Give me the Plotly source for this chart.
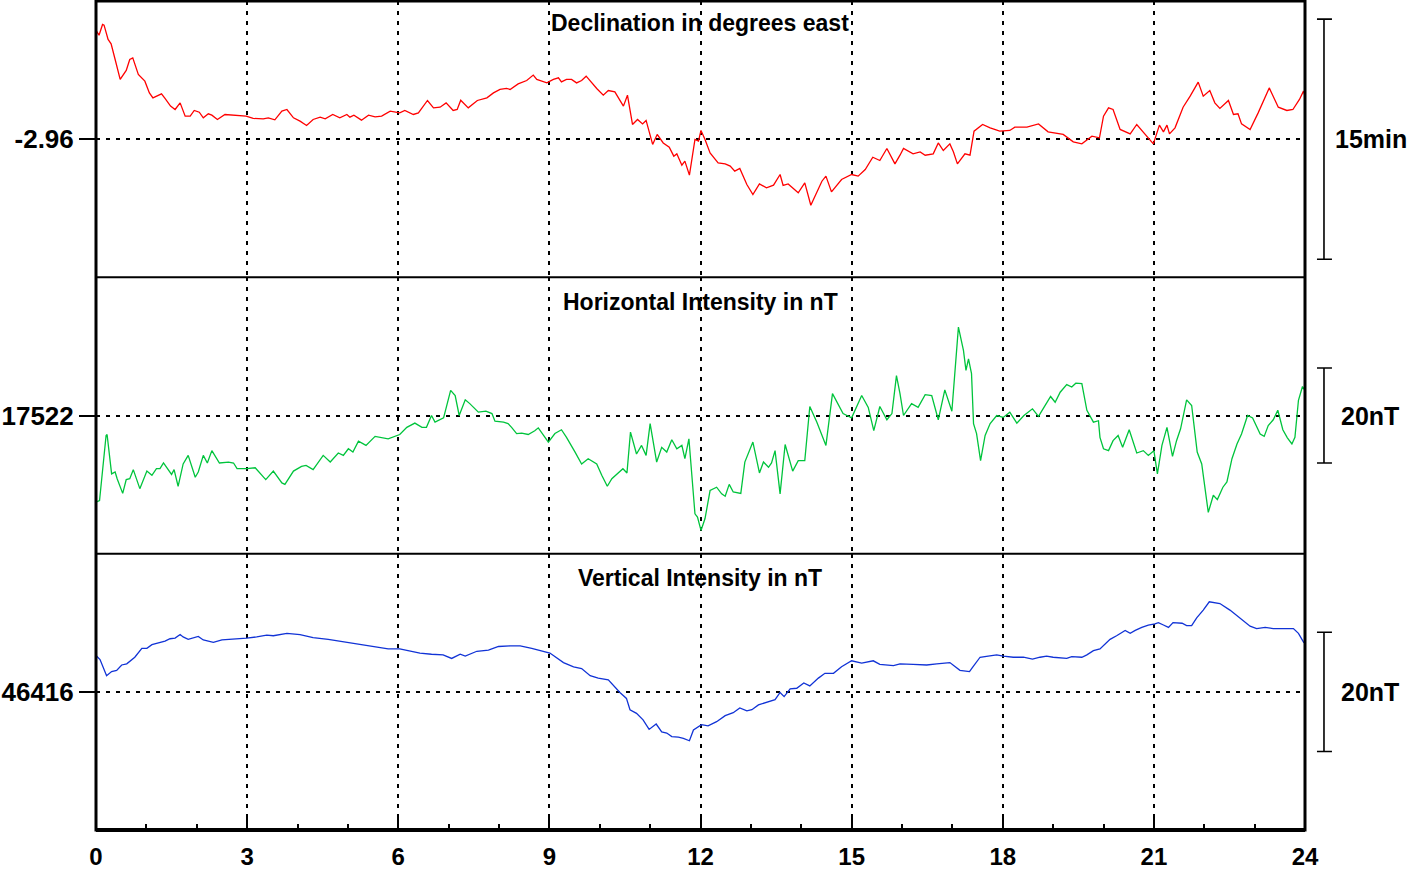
import plotly.graph_objects as go
from plotly.subplots import make_subplots

# hours (UT) and readings, one array pair per component
dec_hours = [0.01, 0.06, 0.13, 0.16, 0.24, 0.30, 0.38, 0.48, 0.60, 0.67,
             0.73, 0.77, 0.84, 0.97, 1.06, 1.13, 1.20, 1.30, 1.37, 1.48,
             1.57, 1.67, 1.77, 1.87, 1.95, 2.05, 2.13, 2.23, 2.30, 2.41,
             2.56, 2.73, 2.86, 2.98, 3.12, 3.32, 3.42, 3.55, 3.69, 3.79,
             3.92, 4.05, 4.18, 4.31, 4.45, 4.55, 4.70, 4.84, 4.98, 5.04,
             5.12, 5.27, 5.41, 5.54, 5.67, 5.84, 6.03, 6.13, 6.30, 6.40,
             6.58, 6.70, 6.83, 6.95, 7.09, 7.17, 7.24, 7.39, 7.57, 7.76,
             7.89, 8.02, 8.15, 8.22, 8.38, 8.55, 8.68, 8.75, 8.95, 9.08,
             9.18, 9.24, 9.34, 9.44, 9.54, 9.64, 9.73, 9.84, 9.94, 10.07,
             10.17, 10.30, 10.47, 10.55, 10.65, 10.75, 10.85, 10.92, 11.05, 11.14,
             11.26, 11.38, 11.47, 11.53, 11.63, 11.69, 11.78, 11.89, 11.96, 12.01,
             12.09, 12.19, 12.35, 12.49, 12.59, 12.68, 12.78, 12.92, 13.04, 13.17,
             13.31, 13.45, 13.58, 13.64, 13.74, 13.94, 14.07, 14.19, 14.31, 14.41,
             14.49, 14.60, 14.80, 15.00, 15.13, 15.27, 15.42, 15.56, 15.70, 15.86,
             15.96, 16.03, 16.22, 16.36, 16.46, 16.62, 16.72, 16.82, 16.95, 17.02,
             17.10, 17.25, 17.35, 17.43, 17.60, 17.75, 17.94, 18.14, 18.24, 18.48,
             18.71, 18.90, 19.20, 19.40, 19.57, 19.77, 19.92, 20.00, 20.10, 20.19,
             20.33, 20.53, 20.66, 20.82, 20.99, 21.11, 21.19, 21.26, 21.31, 21.42,
             21.58, 21.72, 21.88, 21.98, 22.11, 22.21, 22.31, 22.48, 22.58, 22.67,
             22.74, 22.91, 23.07, 23.29, 23.47, 23.64, 23.76, 23.89, 23.97, 24.00]
dec_values = [-2.8475, -2.8517, -2.8405, -2.8412, -2.8561, -2.8607, -2.8770, -2.8978, -2.8884, -2.8770,
              -2.8753, -2.8822, -2.8926, -2.8996, -2.9118, -2.9170, -2.9152, -2.9128, -2.9176, -2.9256,
              -2.9291, -2.9222, -2.9360, -2.9360, -2.9301, -2.9319, -2.9378, -2.9336, -2.9350, -2.9395,
              -2.9343, -2.9353, -2.9360, -2.9360, -2.9384, -2.9389, -2.9378, -2.9399, -2.9308, -2.9291,
              -2.9378, -2.9412, -2.9457, -2.9395, -2.9371, -2.9389, -2.9343, -2.9378, -2.9343, -2.9371,
              -2.9350, -2.9402, -2.9350, -2.9368, -2.9360, -2.9308, -2.9326, -2.9301, -2.9343, -2.9326,
              -2.9197, -2.9274, -2.9267, -2.9222, -2.9301, -2.9291, -2.9194, -2.9274, -2.9197, -2.9170,
              -2.9118, -2.9082, -2.9072, -2.9082, -2.9024, -2.8989, -2.8933, -2.8978, -2.9014, -2.8978,
              -2.8961, -2.9003, -2.8978, -2.8978, -2.9014, -2.8989, -2.8944, -2.9014, -2.9072, -2.9142,
              -2.9093, -2.9107, -2.9256, -2.9142, -2.9447, -2.9395, -2.9441, -2.9405, -2.9655, -2.9551,
              -2.9639, -2.9683, -2.9777, -2.9753, -2.9871, -2.9829, -2.9975, -2.9603, -2.9621, -2.9509,
              -2.9603, -2.9743, -2.9847, -2.9857, -2.9881, -2.9933, -2.9905, -3.0072, -3.0176, -3.0066,
              -3.0107, -3.0079, -2.9968, -3.0082, -3.0066, -3.0159, -3.0055, -3.0288, -3.0142, -3.0038,
              -2.9985, -3.0149, -3.0020, -2.9968, -2.9985, -2.9916, -2.9788, -2.9822, -2.9697, -2.9857,
              -2.9767, -2.9697, -2.9753, -2.9732, -2.9767, -2.9753, -2.9639, -2.9718, -2.9649, -2.9732,
              -2.9857, -2.9753, -2.9767, -2.9517, -2.9447, -2.9482, -2.9517, -2.9509, -2.9475, -2.9475,
              -2.9441, -2.9524, -2.9551, -2.9628, -2.9649, -2.9569, -2.9586, -2.9360, -2.9274, -2.9291,
              -2.9499, -2.9545, -2.9447, -2.9545, -2.9649, -2.9454, -2.9524, -2.9454, -2.9545, -2.9482,
              -2.9267, -2.9152, -2.9006, -2.9152, -2.9093, -2.9222, -2.9280, -2.9197, -2.9343, -2.9336,
              -2.9441, -2.9499, -2.9326, -2.9066, -2.9267, -2.9301, -2.9291, -2.9186, -2.9100, -2.9152]

hor_hours = [0.01, 0.07, 0.20, 0.22, 0.31, 0.38, 0.42, 0.53, 0.60, 0.67,
             0.74, 0.87, 1.01, 1.11, 1.20, 1.27, 1.34, 1.50, 1.55, 1.63,
             1.73, 1.83, 1.97, 2.03, 2.13, 2.21, 2.30, 2.45, 2.63, 2.73,
             2.80, 2.99, 3.16, 3.37, 3.52, 3.69, 3.75, 3.92, 4.08, 4.17,
             4.31, 4.51, 4.65, 4.81, 4.91, 5.01, 5.10, 5.21, 5.36, 5.54,
             5.80, 6.03, 6.17, 6.33, 6.47, 6.56, 6.66, 6.73, 6.90, 7.04,
             7.13, 7.21, 7.33, 7.42, 7.59, 7.74, 7.86, 7.92, 8.09, 8.18,
             8.25, 8.35, 8.45, 8.58, 8.71, 8.78, 8.98, 9.11, 9.24, 9.34,
             9.51, 9.64, 9.77, 9.94, 10.04, 10.15, 10.24, 10.34, 10.46, 10.54,
             10.61, 10.73, 10.83, 10.92, 11.00, 11.13, 11.23, 11.33, 11.43, 11.53,
             11.63, 11.69, 11.77, 11.89, 11.94, 12.01, 12.09, 12.19, 12.32, 12.42,
             12.49, 12.57, 12.65, 12.80, 12.88, 13.04, 13.17, 13.25, 13.35, 13.41,
             13.48, 13.58, 13.68, 13.83, 13.94, 14.07, 14.17, 14.31, 14.49, 14.62,
             14.83, 15.00, 15.20, 15.33, 15.44, 15.56, 15.70, 15.80, 15.89, 15.96,
             16.03, 16.19, 16.32, 16.46, 16.59, 16.72, 16.85, 16.99, 17.12, 17.22,
             17.27, 17.32, 17.38, 17.42, 17.48, 17.56, 17.65, 17.75, 17.88, 18.01,
             18.14, 18.28, 18.42, 18.59, 18.71, 18.80, 18.95, 19.04, 19.14, 19.27,
             19.37, 19.45, 19.57, 19.67, 19.80, 19.90, 19.93, 20.00, 20.10, 20.19,
             20.29, 20.38, 20.51, 20.66, 20.79, 20.89, 21.00, 21.07, 21.16, 21.26,
             21.37, 21.45, 21.53, 21.65, 21.75, 21.86, 21.95, 22.08, 22.18, 22.26,
             22.37, 22.45, 22.55, 22.65, 22.74, 22.86, 22.96, 23.11, 23.19, 23.27,
             23.37, 23.46, 23.56, 23.65, 23.74, 23.80, 23.87, 23.95, 24.00]
hor_values = [17503.8, 17504.1, 17517.8, 17518.0, 17509.7, 17510.1, 17508.7, 17505.6, 17508.5, 17508.7,
              17510.6, 17506.6, 17510.3, 17509.4, 17510.8, 17510.8, 17512.0, 17509.6, 17510.6, 17507.1,
              17511.8, 17513.6, 17509.0, 17510.1, 17513.6, 17512.0, 17514.6, 17512.0, 17512.2, 17512.0,
              17510.8, 17510.8, 17511.0, 17508.5, 17510.3, 17507.8, 17507.5, 17510.3, 17511.3, 17511.5,
              17510.6, 17513.6, 17512.2, 17514.1, 17513.6, 17515.0, 17514.3, 17516.6, 17515.7, 17517.6,
              17517.1, 17518.0, 17519.5, 17520.4, 17519.5, 17519.5, 17522.0, 17520.6, 17521.5, 17527.3,
              17526.2, 17522.0, 17525.3, 17524.5, 17522.7, 17522.9, 17522.4, 17520.8, 17520.6, 17520.3,
              17519.5, 17518.2, 17518.3, 17518.0, 17518.8, 17519.4, 17516.4, 17518.2, 17519.0, 17517.4,
              17514.3, 17511.8, 17512.9, 17511.8, 17509.4, 17507.1, 17508.7, 17509.7, 17510.8, 17509.9,
              17518.5, 17513.9, 17515.7, 17513.6, 17520.3, 17512.2, 17515.3, 17514.3, 17516.9, 17515.0,
              17515.7, 17512.9, 17517.1, 17501.3, 17500.6, 17497.8, 17500.3, 17506.2, 17506.9, 17505.5,
              17505.0, 17507.5, 17505.9, 17505.6, 17512.2, 17516.4, 17509.9, 17512.2, 17511.1, 17512.0,
              17514.6, 17505.5, 17515.9, 17510.3, 17512.5, 17512.5, 17523.9, 17520.6, 17515.7, 17526.6,
              17522.4, 17521.5, 17526.2, 17523.7, 17518.8, 17523.9, 17521.1, 17522.4, 17530.4, 17526.6,
              17522.0, 17524.5, 17523.7, 17526.4, 17526.2, 17521.1, 17527.4, 17522.9, 17540.6, 17535.7,
              17531.5, 17533.9, 17530.8, 17520.3, 17518.2, 17512.5, 17517.8, 17520.3, 17522.0, 17521.6,
              17522.7, 17520.4, 17522.0, 17523.4, 17521.8, 17523.4, 17526.0, 17524.8, 17526.9, 17528.5,
              17528.0, 17528.8, 17528.7, 17523.1, 17520.6, 17520.9, 17517.4, 17515.0, 17514.6, 17516.7,
              17517.8, 17515.3, 17519.0, 17514.1, 17514.6, 17513.6, 17514.6, 17509.7, 17515.7, 17519.5,
              17513.4, 17516.7, 17519.2, 17525.3, 17524.1, 17514.3, 17511.8, 17501.6, 17505.2, 17504.3,
              17506.9, 17508.0, 17512.9, 17516.0, 17518.1, 17522.0, 17521.5, 17518.1, 17517.6, 17519.9,
              17521.1, 17523.1, 17519.0, 17517.3, 17516.0, 17517.4, 17525.2, 17528.1, 17527.3]

ver_hours = [0.01, 0.08, 0.21, 0.31, 0.41, 0.51, 0.61, 0.77, 0.91, 1.01,
             1.11, 1.24, 1.37, 1.47, 1.57, 1.67, 1.73, 1.83, 1.93, 2.03,
             2.13, 2.33, 2.50, 2.73, 2.99, 3.19, 3.39, 3.52, 3.79, 4.05,
             4.31, 4.61, 4.98, 5.24, 5.57, 5.80, 6.03, 6.23, 6.43, 6.66,
             6.89, 7.06, 7.23, 7.33, 7.56, 7.79, 7.99, 8.22, 8.42, 8.65,
             8.85, 9.01, 9.28, 9.48, 9.64, 9.81, 9.97, 10.17, 10.40, 10.53,
             10.60, 10.73, 10.86, 10.98, 11.12, 11.23, 11.33, 11.43, 11.56, 11.66,
             11.78, 11.86, 12.02, 12.15, 12.32, 12.49, 12.65, 12.78, 12.92, 13.02,
             13.15, 13.31, 13.48, 13.58, 13.66, 13.78, 13.91, 14.05, 14.17, 14.34,
             14.47, 14.64, 14.80, 15.00, 15.20, 15.43, 15.56, 15.83, 15.96, 16.22,
             16.49, 16.69, 16.95, 17.15, 17.34, 17.40, 17.55, 17.71, 17.88, 18.01,
             18.21, 18.41, 18.59, 18.74, 18.87, 19.00, 19.27, 19.37, 19.57, 19.67,
             19.80, 19.93, 20.13, 20.26, 20.43, 20.53, 20.63, 20.76, 20.89, 21.02,
             21.09, 21.19, 21.29, 21.38, 21.56, 21.65, 21.75, 21.85, 21.98, 22.10,
             22.21, 22.31, 22.51, 22.71, 22.91, 23.04, 23.21, 23.37, 23.50, 23.77,
             23.87, 23.98]
ver_values = [46422.0, 46421.4, 46418.7, 46419.4, 46419.6, 46420.5, 46420.7, 46421.8, 46423.3, 46423.3,
              46423.9, 46424.2, 46424.5, 46424.9, 46425.0, 46425.6, 46425.2, 46424.8, 46425.1, 46425.3,
              46424.7, 46424.3, 46424.7, 46424.8, 46425.0, 46425.2, 46425.5, 46425.4, 46425.8, 46425.6,
              46425.1, 46424.8, 46424.3, 46423.9, 46423.4, 46423.2, 46423.2, 46422.8, 46422.5, 46422.3,
              46422.2, 46421.6, 46422.3, 46422.0, 46422.8, 46423.0, 46423.6, 46423.7, 46423.7, 46423.3,
              46422.9, 46422.5, 46420.9, 46420.2, 46419.9, 46418.7, 46418.3, 46418.0, 46415.9, 46414.9,
              46413.0, 46412.4, 46411.3, 46409.7, 46410.6, 46409.3, 46409.1, 46408.5, 46408.4, 46408.2,
              46407.8, 46409.6, 46410.5, 46410.3, 46411.0, 46412.0, 46412.5, 46413.3, 46412.8, 46413.0,
              46413.8, 46414.2, 46414.7, 46415.9, 46415.2, 46416.5, 46416.6, 46417.5, 46417.0, 46418.3,
              46419.1, 46419.1, 46420.2, 46421.2, 46420.8, 46421.2, 46420.6, 46420.4, 46420.7, 46420.6,
              46420.5, 46420.7, 46420.9, 46419.6, 46419.4, 46420.1, 46421.8, 46422.0, 46422.2, 46422.0,
              46421.8, 46421.8, 46421.5, 46421.8, 46422.0, 46421.8, 46421.6, 46421.9, 46421.8, 46422.2,
              46422.9, 46423.2, 46424.8, 46425.4, 46426.3, 46425.8, 46426.3, 46426.8, 46427.2, 46427.4,
              46427.6, 46427.2, 46426.8, 46427.6, 46427.5, 46427.1, 46427.1, 46428.4, 46429.7, 46431.1,
              46431.0, 46430.8, 46429.7, 46428.4, 46427.0, 46426.6, 46426.8, 46426.6, 46426.6, 46426.6,
              46425.8, 46424.2]

assert len(dec_hours) == len(dec_values)
assert len(hor_hours) == len(hor_values)
assert len(ver_hours) == len(ver_values)

panel_titles = ["Declination in degrees east", "Horizontal Intensity in nT", "Vertical Intensity in nT"]
base_values = [-2.96, 17522, 46416]
base_labels = ["-2.96", "17522", "46416"]
half_spans = [0.1439, 29.09, 23.16]      # half height of each panel, data units
scale_sizes = [0.25, 20, 20]             # 15 arc-minutes, 20 nT, 20 nT
scale_labels = ["15min", "20nT", "20nT"]
hour_ticks = list(range(0, 25, 3))

line_colors = ["#ff0000", "#00c43c", "#1133d6"]
FONT = "Liberation Sans, Arial, sans-serif"
DOTS = "4px,6px"

fig = make_subplots(rows=3, cols=1, shared_xaxes=True, vertical_spacing=0)

series = [(dec_hours, dec_values), (hor_hours, hor_values), (ver_hours, ver_values)]
for i, (hours, values) in enumerate(series):
    fig.add_trace(
        go.Scatter(x=hours, y=values, mode="lines",
                   line=dict(color=line_colors[i], width=1.3),
                   hoverinfo="skip"),
        row=i + 1, col=1,
    )

for i in range(3):
    row = i + 1
    last = row == 3
    fig.update_xaxes(
        range=[0, 24], tickvals=hour_ticks,
        showgrid=True, gridcolor="black", gridwidth=2, griddash=DOTS,
        zeroline=False, showline=False,
        showticklabels=last, ticklabelstandoff=10,
        ticks="inside" if last else "", ticklen=14, tickwidth=2, tickcolor="black",
        tickfont=dict(family=FONT, size=24, color="black", weight="bold"),
        minor=dict(dtick=1, ticks="inside" if last else "", ticklen=6,
                   tickwidth=2, tickcolor="black", showgrid=False),
        automargin=False,
        row=row, col=1,
    )
    c = base_values[i]
    fig.update_yaxes(
        range=[c - half_spans[i], c + half_spans[i]],
        tickvals=[c], ticktext=[base_labels[i]],
        ticks="outside", ticklen=16, tickwidth=2, tickcolor="black",
        tickfont=dict(family=FONT, size=26, color="black", weight="bold"),
        showgrid=True, gridcolor="black", gridwidth=2, griddash=DOTS,
        zeroline=False, showline=False, automargin=False,
        row=row, col=1,
    )

shapes = []
# frame and panel separators
shapes.append(dict(type="rect", xref="paper", yref="paper", x0=0, x1=1, y0=0, y1=1,
                   line=dict(color="black", width=3)))
shapes.append(dict(type="line", xref="paper", yref="paper", x0=0, x1=1, y0=0, y1=0,
                   line=dict(color="black", width=4)))
for yb in (1 / 3, 2 / 3):
    shapes.append(dict(type="line", xref="paper", yref="paper", x0=0, x1=1, y0=yb, y1=yb,
                       line=dict(color="black", width=2)))

annotations = []
yrefs = ["y", "y2", "y3"]
title_ys = [0.9735, 0.6369, 0.3040]
for i in range(3):
    c = base_values[i]
    lo, hi = c - scale_sizes[i] / 2, c + scale_sizes[i] / 2
    bar = dict(color="black", width=1.6)
    shapes.append(dict(type="line", xref="paper", yref=yrefs[i], x0=1.0157, x1=1.0157,
                       y0=lo, y1=hi, line=bar))
    for yv in (lo, hi):
        shapes.append(dict(type="line", xref="paper", yref=yrefs[i], x0=1.0099, x1=1.0223,
                           y0=yv, y1=yv, line=bar))
    annotations.append(dict(text=scale_labels[i], xref="paper", yref=yrefs[i],
                            x=1.0232 if i == 0 else 1.028, y=c, xanchor="left", yanchor="middle",
                            showarrow=False,
                            font=dict(family=FONT, size=25, color="black", weight="bold")))
    annotations.append(dict(text=panel_titles[i], xref="paper", yref="paper",
                            x=0.4996, y=title_ys[i], xanchor="center", yanchor="middle",
                            showarrow=False,
                            font=dict(family=FONT, size=23, color="black", weight="bold")))

fig.update_layout(
    width=1421, height=878,
    margin=dict(l=96, r=116, t=1, b=48, autoexpand=False),
    plot_bgcolor="white", paper_bgcolor="white",
    showlegend=False,
    font=dict(family=FONT, color="black"),
    shapes=shapes, annotations=annotations,
)

fig.write_html("out.html", config={"displayModeBar": False},
               post_script="document.body.style.margin='0';")
